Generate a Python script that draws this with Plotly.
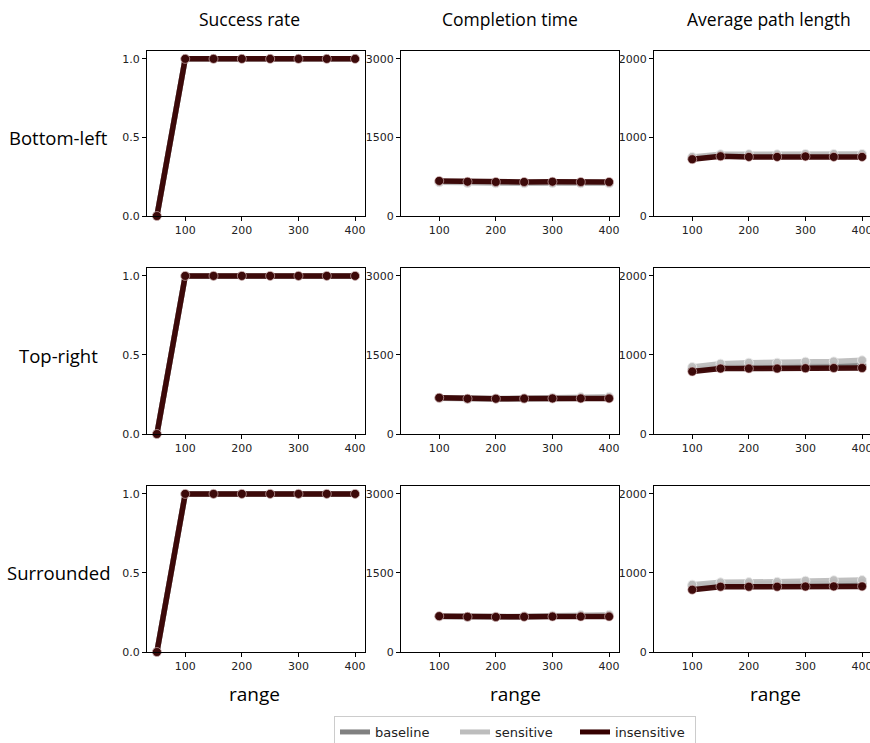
import plotly.graph_objects as go

ranges = [50, 100, 150, 200, 250, 300, 350, 400]
rows = ["Bottom-left", "Top-right", "Surrounded"]
metrics = ["Success rate", "Completion time", "Average path length"]
series = ["baseline", "sensitive", "insensitive"]

success = {
    "Bottom-left": {"baseline": [0, 1, 1, 1, 1, 1, 1, 1],
                    "sensitive": [0, 1, 1, 1, 1, 1, 1, 1],
                    "insensitive": [0, 1, 1, 1, 1, 1, 1, 1]},
    "Top-right": {"baseline": [0, 1, 1, 1, 1, 1, 1, 1],
                  "sensitive": [0, 1, 1, 1, 1, 1, 1, 1],
                  "insensitive": [0, 1, 1, 1, 1, 1, 1, 1]},
    "Surrounded": {"baseline": [0, 1, 1, 1, 1, 1, 1, 1],
                   "sensitive": [0, 1, 1, 1, 1, 1, 1, 1],
                   "insensitive": [0, 1, 1, 1, 1, 1, 1, 1]},
}
completion = {
    "Bottom-left": {"baseline": [None, 650, 635, 630, 630, 635, 630, 630],
                    "sensitive": [None, 645, 630, 625, 625, 628, 625, 625],
                    "insensitive": [None, 670, 655, 650, 650, 655, 650, 650]},
    "Top-right": {"baseline": [None, 680, 665, 668, 670, 675, 680, 685],
                  "sensitive": [None, 685, 670, 675, 680, 690, 700, 705],
                  "insensitive": [None, 688, 670, 670, 672, 675, 675, 675]},
    "Surrounded": {"baseline": [None, 675, 665, 665, 670, 678, 685, 690],
                   "sensitive": [None, 680, 670, 672, 680, 690, 700, 705],
                   "insensitive": [None, 680, 668, 665, 668, 672, 672, 672]},
}
path_length = {
    "Bottom-left": {"baseline": [None, 740, 772, 770, 770, 775, 772, 772],
                    "sensitive": [None, 752, 785, 787, 785, 790, 790, 790],
                    "insensitive": [None, 722, 760, 752, 752, 758, 752, 752]},
    "Top-right": {"baseline": [None, 815, 850, 855, 855, 860, 862, 865],
                  "sensitive": [None, 847, 890, 902, 902, 915, 918, 932],
                  "insensitive": [None, 790, 828, 828, 828, 832, 835, 835]},
    "Surrounded": {"baseline": [None, 840, 855, 858, 860, 865, 866, 868],
                   "sensitive": [None, 852, 881, 884, 888, 902, 908, 910],
                   "insensitive": [None, 788, 826, 826, 826, 828, 830, 830]},
}
data_by_metric = [success, completion, path_length]
y_ticks = [[0, 0.5, 1.0], [0, 1500, 3000], [0, 1000, 2000]]
y_ticktext = [["0.0", "0.5", "1.0"], ["0", "1500", "3000"], ["0", "1000", "2000"]]
y_ranges = [[0, 1.05], [0, 3150], [0, 2100]]
x_ticks = [100, 200, 300, 400]

colors = {"baseline": "#808080", "sensitive": "#bdbdbd", "insensitive": "#360000"}
marker_edge = {"baseline": "rgba(220,220,220,0.8)", "sensitive": "rgba(235,235,235,0.9)",
               "insensitive": "rgba(230,200,200,0.6)"}

W, H = 870, 743
col_px = [(147, 365), (401, 619), (654, 870)]
row_px = [(51, 216), (268, 434), (486, 652)]
x_ranges = [[32.5, 417.5], [32.5, 417.5], [32.5, 414]]

fig = go.Figure()
layout = {}
for r, rname in enumerate(rows):
    for c in range(3):
        n = r * 3 + c + 1
        xa = f"x{n}" if n > 1 else "x"
        ya = f"y{n}" if n > 1 else "y"
        for s in series:
            fig.add_trace(go.Scatter(
                x=ranges, y=data_by_metric[c][rname][s], xaxis=xa, yaxis=ya,
                mode="lines+markers", showlegend=False, connectgaps=False,
                line=dict(color=colors[s], width=5.5),
                marker=dict(size=9, color=colors[s], line=dict(color=marker_edge[s], width=1)),
                opacity=0.95, cliponaxis=False if c < 2 else True,
            ))
        x0, x1 = col_px[c]
        y0, y1 = row_px[r]
        axis_common = dict(showgrid=False, zeroline=False, showline=True, linecolor="black",
                           linewidth=1.2, ticks="outside", ticklen=4, tickwidth=1,
                           tickcolor="black",
                           tickfont=dict(family="DejaVu Sans", size=11, color="#222"))
        layout[f"xaxis{n}"] = dict(
            domain=[x0 / W, x1 / W], range=x_ranges[c], anchor=ya,
            tickvals=x_ticks, mirror=True, ticklabeloverflow="allow", **axis_common)
        layout[f"yaxis{n}"] = dict(
            domain=[1 - y1 / H, 1 - y0 / H], range=y_ranges[c], anchor=xa,
            tickvals=y_ticks[c], ticktext=y_ticktext[c], mirror=(c < 2), **axis_common)

for s in series:
    fig.add_trace(go.Scatter(x=[None], y=[None], mode="lines", name=s,
                             line=dict(color=colors[s], width=5), showlegend=True))

annotations = []
title_x = [249, 510, 769]
for c, m in enumerate(metrics):
    annotations.append(dict(text=m, x=title_x[c] / W, y=1 - 19 / H, xref="paper", yref="paper",
                            showarrow=False, xanchor="center", yanchor="middle",
                            font=dict(family="Open Sans", size=17.5, color="black")))
row_y = [137, 355, 572]
for r, rname in enumerate(rows):
    annotations.append(dict(text=rname, x=58 / W, y=1 - row_y[r] / H, xref="paper", yref="paper",
                            showarrow=False, xanchor="center", yanchor="middle",
                            font=dict(family="Open Sans", size=18.5, color="black")))
range_x = [254, 515, 775]
for c in range(3):
    annotations.append(dict(text="range", x=range_x[c] / W, y=1 - 694 / H, xref="paper", yref="paper",
                            showarrow=False, xanchor="center", yanchor="middle",
                            font=dict(family="Open Sans", size=19, color="black")))

fig.update_layout(
    width=W, height=H,
    margin=dict(l=0, r=0, t=0, b=0, autoexpand=False),
    plot_bgcolor="white", paper_bgcolor="white",
    annotations=annotations,
    legend=dict(orientation="h", x=334 / W, xanchor="left", y=1 - 716 / H, yanchor="top",
                entrywidth=75, entrywidthmode="pixels",
                font=dict(family="DejaVu Sans", size=13, color="#222"),
                bordercolor="#cccccc", borderwidth=1, bgcolor="white"),
    **layout,
)

fig.write_html("out.html", config={"displayModeBar": False},
               post_script="document.body.style.margin='0px';document.body.style.overflow='hidden';")
